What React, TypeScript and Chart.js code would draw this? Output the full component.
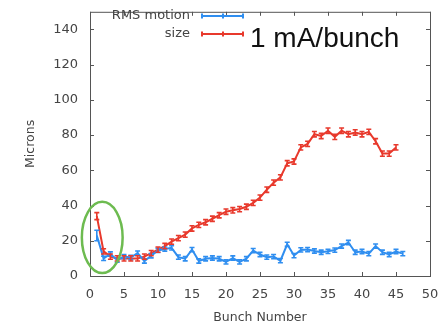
import React, { useEffect, useRef } from "react";
import { Chart, registerables } from "chart.js";

Chart.register(...registerables);

const sizeBunches = [1,2,3,4,5,6,7,8,9,10,11,12,13,14,15,16,17,18,19,20,21,22,23,24,25,26,27,28,29,30,31,32,33,34,35,36,37,38,39,40,41,42,43,44,45];
const sizeValues = [34,14,11,10,10,10,10,11,13,15,17,19.5,21.5,23.5,27,29,30.5,32.5,34.5,36.5,37.3,38,39.3,41.5,44.5,49,53,56,64,65,73,75,80.5,79.5,82.5,79,82.5,80.5,81.5,80.5,81.8,76.5,69.5,69.5,73];
const sizeErrors = [2,1.5,1.5,1.5,1.5,1.5,1.5,1.5,1.5,1.5,1.5,1.5,1.5,1.5,1.5,1.5,1.5,1.5,1.5,1.5,1.5,1.5,1.5,1.5,1.5,1.5,1.5,1.5,1.5,1.5,1.5,1.5,1.5,1.5,1.5,1.5,1.5,1.5,1.5,1.5,1.5,1.5,1.5,1.5,1.5];

const rmsBunches = [1,2,3,4,5,6,7,8,9,10,11,12,13,14,15,16,17,18,19,20,21,22,23,24,25,26,27,28,29,30,31,32,33,34,35,36,37,38,39,40,41,42,43,44,45,46];
const rmsValues = [23,10,12.5,9,11,10.5,13,8.5,11.5,14.5,15.3,16,10.7,9.8,15,8.5,9.8,10.2,9.8,8,10.2,8,9.8,14.4,12.2,10.7,11,8.7,18,11.6,14.8,15,14.2,13.5,14,14.7,17,19,13.5,13.9,12.7,17,13.5,12.2,13.9,12.7];
const rmsErrors = [3,1.2,1.2,1.2,1.2,1.2,1.2,1.2,1.2,1.2,1.2,1.2,1.2,1.2,1.2,1.2,1.2,1.2,1.2,1.2,1.2,1.2,1.2,1.2,1.2,1.2,1.2,1.2,1.2,1.2,1.2,1.2,1.2,1.2,1.2,1.2,1.2,1.2,1.2,1.2,1.2,1.2,1.2,1.2,1.2,1.2];

const xTickStep = 5;
const yTickStep = 20;
const seriesNames = ["RMS motion", "size"];
const annotationText = "1 mA/bunch";
const xTitle = "Bunch Number";
const yTitle = "Microns";
// circled region (data units): center x, center y, radius x, radius y
const circleCenter = [1.8, 21.9];
const circleRadius = [3.0, 20.2];

const RED = "#e8392c";
const BLUE = "#2f8ef0";
const GREEN = "#6dbb50";
const TICKFONT = "'DejaVu Sans', sans-serif";

const errorBarPlugin = {
  id: "errorBars",
  afterDatasetsDraw(chart: any) {
    const ctx = chart.ctx;
    const xs = chart.scales.x;
    const ys = chart.scales.y;
    const sets = [
      { b: rmsBunches, v: rmsValues, e: rmsErrors, c: BLUE },
      { b: sizeBunches, v: sizeValues, e: sizeErrors, c: RED },
    ];
    ctx.save();
    sets.forEach((s) => {
      ctx.strokeStyle = s.c;
      ctx.lineWidth = 1.6;
      s.b.forEach((bx, i) => {
        const px = xs.getPixelForValue(bx);
        const y1 = ys.getPixelForValue(s.v[i] + s.e[i]);
        const y2 = ys.getPixelForValue(s.v[i] - s.e[i]);
        ctx.beginPath();
        ctx.moveTo(px, y1);
        ctx.lineTo(px, y2);
        ctx.moveTo(px - 2.5, y1);
        ctx.lineTo(px + 2.5, y1);
        ctx.moveTo(px - 2.5, y2);
        ctx.lineTo(px + 2.5, y2);
        ctx.stroke();
      });
    });
    ctx.restore();
  },
};

const framePlugin = {
  id: "frameDeco",
  afterDraw(chart: any) {
    const ctx = chart.ctx;
    const { left, right, top, bottom } = chart.chartArea;
    const xs = chart.scales.x;
    const ys = chart.scales.y;
    ctx.save();
    ctx.strokeStyle = "#555";
    ctx.lineWidth = 1;
    ctx.strokeRect(left + 0.5, top + 0.5, right - left, bottom - top);
    ctx.beginPath();
    xs.ticks.forEach((t: any) => {
      const px = Math.round(xs.getPixelForValue(t.value)) + 0.5;
      ctx.moveTo(px, bottom);
      ctx.lineTo(px, bottom - 4);
      ctx.moveTo(px, top);
      ctx.lineTo(px, top + 4);
    });
    ys.ticks.forEach((t: any) => {
      const py = Math.round(ys.getPixelForValue(t.value)) + 0.5;
      ctx.moveTo(left, py);
      ctx.lineTo(left + 4, py);
      ctx.moveTo(right, py);
      ctx.lineTo(right - 4, py);
    });
    ctx.stroke();

    // green ellipse
    const cx = xs.getPixelForValue(circleCenter[0]);
    const cy = ys.getPixelForValue(circleCenter[1]);
    const rx = xs.getPixelForValue(circleCenter[0] + circleRadius[0]) - cx;
    const ry = cy - ys.getPixelForValue(circleCenter[1] + circleRadius[1]);
    ctx.strokeStyle = GREEN;
    ctx.lineWidth = 2.5;
    ctx.beginPath();
    ctx.ellipse(cx, cy, rx, ry, 0, 0, Math.PI * 2);
    ctx.stroke();

    // legend
    const rows = [
      { label: seriesNames[0], c: BLUE, y: 16 },
      { label: seriesNames[1], c: RED, y: 34 },
    ];
    ctx.font = `13px ${TICKFONT}`;
    ctx.textAlign = "right";
    ctx.textBaseline = "middle";
    rows.forEach((r) => {
      ctx.fillStyle = "#444";
      ctx.fillText(r.label, 190, r.y);
      ctx.strokeStyle = r.c;
      ctx.lineWidth = 2;
      ctx.beginPath();
      ctx.moveTo(202, r.y);
      ctx.lineTo(243, r.y);
      [202, 223, 243].forEach((x) => {
        ctx.moveTo(x, r.y - 2.5);
        ctx.lineTo(x, r.y + 2.5);
      });
      ctx.stroke();
    });

    // annotation
    ctx.fillStyle = "#111";
    ctx.textAlign = "left";
    ctx.font = "28px 'Liberation Sans', Arial, sans-serif";
    ctx.fillText(annotationText, 250, 39);
    ctx.restore();
  },
};

export default function App() {
  const ref = useRef<HTMLCanvasElement | null>(null);
  useEffect(() => {
    if (!ref.current) return;
    const chart = new Chart(ref.current, {
      type: "line",
      data: {
        datasets: [
          {
            label: seriesNames[0],
            data: rmsBunches.map((b, i) => ({ x: b, y: rmsValues[i] })),
            borderColor: BLUE,
            backgroundColor: BLUE,
            borderWidth: 2,
            pointRadius: 0,
            tension: 0,
          },
          {
            label: seriesNames[1],
            data: sizeBunches.map((b, i) => ({ x: b, y: sizeValues[i] })),
            borderColor: RED,
            backgroundColor: RED,
            borderWidth: 2,
            pointRadius: 0,
            tension: 0,
          },
        ],
      },
      options: {
        animation: false,
        responsive: false,
        layout: { padding: { top: 5, right: 18, left: 0, bottom: 0 } },
        plugins: { legend: { display: false }, tooltip: { enabled: false } },
        scales: {
          x: {
            type: "linear",
            min: 0,
            max: 50,
            grid: { display: false },
            border: { display: false },
            ticks: {
              stepSize: xTickStep,
              padding: 3,
              color: "#444",
              font: { family: TICKFONT, size: 13 },
              maxRotation: 0,
            },
            title: {
              display: true,
              text: xTitle,
              color: "#444",
              font: { family: TICKFONT, size: 12.5 },
              padding: { top: 0, bottom: 1 },
            },
            afterFit(scale: any) {
              scale.height = 50;
            },
          },
          y: {
            min: 0,
            max: 150,
            grid: { display: false },
            border: { display: false },
            ticks: {
              stepSize: yTickStep,
              includeBounds: false,
              padding: 4,
              color: "#444",
              font: { family: TICKFONT, size: 13 },
            },
            title: {
              display: true,
              text: yTitle,
              color: "#444",
              font: { family: TICKFONT, size: 12.5 },
              padding: { top: 23, bottom: 0 },
            },
            afterFit(scale: any) {
              scale.width = 90;
            },
          },
        },
      },
      plugins: [errorBarPlugin, framePlugin],
    });
    return () => chart.destroy();
  }, []);
  return (
    <div style={{ position: "absolute", left: 0, top: 0, width: 448, height: 326, background: "#fff" }}>
      <canvas ref={ref} width={448} height={326} style={{ display: "block" }} />
    </div>
  );
}
